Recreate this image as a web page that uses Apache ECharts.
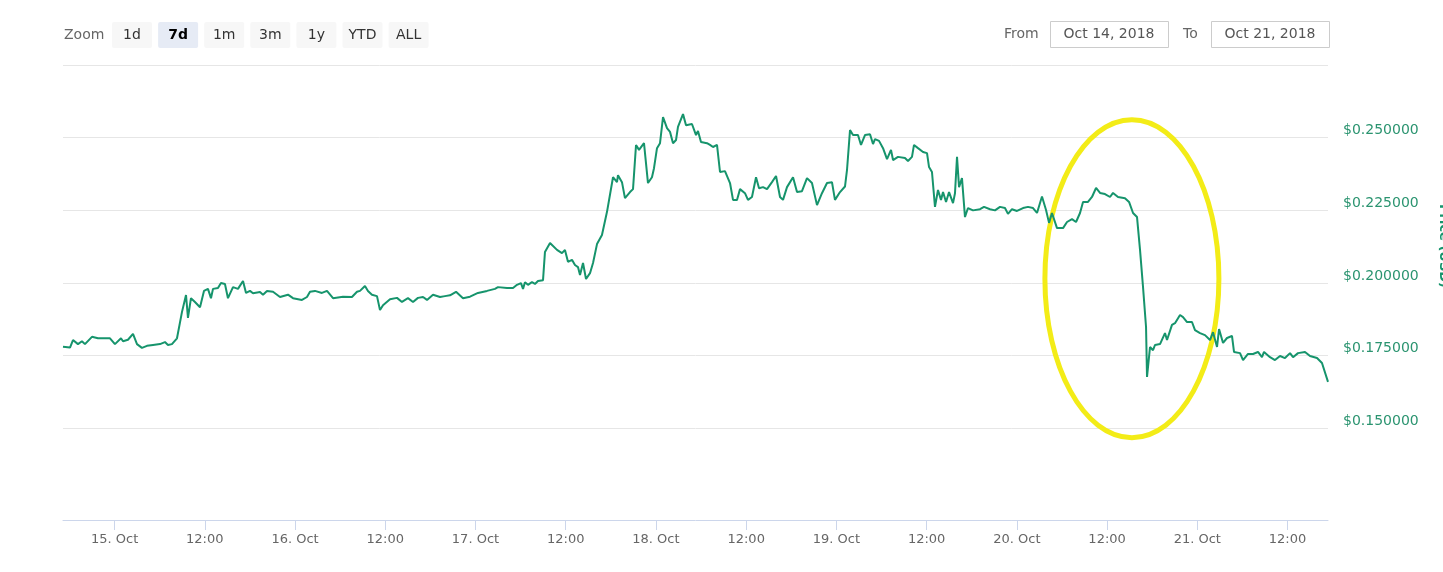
<!DOCTYPE html>
<html>
<head>
<meta charset="utf-8">
<title>Price (USD) 7d</title>
<script src="https://cdn.jsdelivr.net/npm/echarts@6/dist/echarts.min.js"></script>
<style>
  html, body { margin: 0; padding: 0; background: #fff; }
  #chart { width: 1443px; height: 572px; }
</style>
</head>
<body>
<div id="chart"></div>
<script>
// hours after 15 Oct 2018 00:00
const priceHours = [
  -6.86, -5.93, -5.53, -4.87, -4.34, -3.94, -3.01, -2.21, -1.54, -0.61,
  0.05, 0.85, 1.12, 1.78, 2.45, 2.98, 3.64, 4.31, 5.11, 6.04,
  6.70, 7.10, 7.63, 8.30, 8.96, 9.50, 9.76, 10.16, 10.69, 11.36,
  11.89, 12.42, 12.82, 13.09, 13.75, 14.15, 14.68, 15.08, 15.75, 16.41,
  17.08, 17.48, 18.01, 18.41, 19.34, 19.74, 20.27, 21.07, 22.00, 23.06,
  23.73, 24.92, 25.59, 25.99, 26.65, 27.58, 28.25, 29.05, 30.38, 31.57,
  32.24, 32.64, 33.30, 33.70, 34.23, 34.90, 35.30, 35.70, 36.63, 37.56,
  38.22, 39.02, 39.69, 40.35, 41.02, 41.55, 42.35, 43.28, 43.94, 44.61,
  45.41, 46.34, 47.27, 48.33, 49.53, 50.59, 50.99, 52.19, 52.99, 53.52,
  54.05, 54.32, 54.58, 54.98, 55.51, 55.91, 56.31, 56.98, 57.24, 57.91,
  58.84, 59.50, 59.90, 60.30, 60.83, 61.23, 61.63, 61.90, 62.30, 62.70,
  63.23, 63.63, 64.16, 64.82, 65.49, 66.29, 66.82, 66.95, 67.48, 67.88,
  68.55, 68.95, 69.35, 69.75, 70.41, 70.94, 71.47, 71.74, 72.14, 72.54,
  72.94, 73.47, 73.87, 74.27, 74.67, 74.93, 75.60, 76.00, 76.79, 77.33,
  77.59, 77.99, 78.79, 79.19, 79.59, 80.12, 80.52, 81.18, 81.85, 82.25,
  82.78, 83.18, 83.84, 84.24, 84.77, 85.31, 85.71, 86.24, 86.77, 87.43,
  87.97, 88.50, 88.90, 89.43, 90.23, 90.76, 91.42, 92.09, 92.75, 93.42,
  94.08, 94.75, 95.41, 95.81, 96.48, 97.14, 97.41, 97.81, 98.21, 98.87,
  99.27, 99.80, 100.47, 100.87, 101.13, 101.67, 102.20, 102.73, 103.26, 103.53,
  104.19, 105.12, 105.52, 106.05, 106.32, 106.85, 107.52, 108.05, 108.32, 108.71,
  109.11, 109.51, 109.91, 110.18, 110.58, 110.98, 111.51, 111.77, 112.04, 112.31,
  112.70, 113.10, 113.50, 114.17, 115.10, 115.63, 116.43, 117.09, 117.76, 118.42,
  118.82, 119.35, 120.02, 120.82, 121.48, 122.15, 122.68, 123.34, 123.88, 124.28,
  124.67, 125.34, 126.14, 126.67, 127.33, 127.87, 128.40, 128.80, 129.46, 129.99,
  130.53, 131.06, 131.72, 132.39, 132.79, 133.45, 134.38, 134.92, 135.45, 135.98,
  136.38, 136.78, 137.18, 137.31, 137.71, 138.11, 138.37, 139.04, 139.70, 139.97,
  140.63, 141.03, 141.70, 142.10, 142.63, 143.29, 143.69, 144.36, 145.02, 145.69,
  146.09, 146.62, 146.89, 147.42, 147.95, 148.61, 148.88, 149.68, 150.08, 150.74,
  151.41, 152.07, 152.60, 152.87, 153.67, 154.33, 155.00, 155.66, 156.33, 156.73,
  157.39, 158.32, 158.99, 159.92, 160.58, 161.38
]
const priceValues = [
  0.1781, 0.1778, 0.1804, 0.1790, 0.1800, 0.1790, 0.1815, 0.1810, 0.1810, 0.1810,
  0.1790, 0.1810, 0.1800, 0.1805, 0.1825, 0.1790, 0.1777, 0.1784, 0.1787, 0.1790,
  0.1797, 0.1787, 0.1790, 0.1810, 0.1900, 0.1959, 0.1880, 0.1948, 0.1935, 0.1917,
  0.1973, 0.1980, 0.1948, 0.1980, 0.1983, 0.2000, 0.1997, 0.1948, 0.1986, 0.1980,
  0.2007, 0.1966, 0.1973, 0.1965, 0.1969, 0.1960, 0.1973, 0.1970, 0.1952, 0.1960,
  0.1948, 0.1942, 0.1952, 0.1970, 0.1973, 0.1966, 0.1973, 0.1948, 0.1953, 0.1952,
  0.1970, 0.1973, 0.1990, 0.1973, 0.1960, 0.1955, 0.1907, 0.1924, 0.1944, 0.1949,
  0.1935, 0.1948, 0.1935, 0.1949, 0.1952, 0.1942, 0.1960, 0.1952, 0.1955, 0.1958,
  0.1970, 0.1948, 0.1953, 0.1966, 0.1973, 0.1980, 0.1986, 0.1983, 0.1983, 0.1994,
  0.2000, 0.1980, 0.2003, 0.1994, 0.2003, 0.1997, 0.2007, 0.2010, 0.2107, 0.2138,
  0.2114, 0.2103, 0.2114, 0.2073, 0.2080, 0.2062, 0.2055, 0.2028, 0.2069, 0.2014,
  0.2034, 0.2069, 0.2134, 0.2165, 0.2245, 0.2364, 0.2347, 0.2371, 0.2347, 0.2292,
  0.2313, 0.2323, 0.2475, 0.2458, 0.2481, 0.2344, 0.2364, 0.2395, 0.2464, 0.2481,
  0.2571, 0.2533, 0.2520, 0.2481, 0.2492, 0.2537, 0.2581, 0.2543, 0.2547, 0.2509,
  0.2523, 0.2485, 0.2481, 0.2475, 0.2468, 0.2475, 0.2382, 0.2385, 0.2344, 0.2286,
  0.2286, 0.2323, 0.2309, 0.2286, 0.2296, 0.2364, 0.2326, 0.2330, 0.2323, 0.2347,
  0.2368, 0.2296, 0.2286, 0.2330, 0.2364, 0.2313, 0.2316, 0.2361, 0.2344, 0.2268,
  0.2309, 0.2344, 0.2347, 0.2286, 0.2313, 0.2332, 0.2389, 0.2526, 0.2509, 0.2509,
  0.2475, 0.2509, 0.2512, 0.2478, 0.2495, 0.2489, 0.2464, 0.2426, 0.2458, 0.2423,
  0.2434, 0.2430, 0.2420, 0.2434, 0.2475, 0.2464, 0.2451, 0.2447, 0.2399, 0.2382,
  0.2262, 0.2320, 0.2286, 0.2313, 0.2279, 0.2313, 0.2275, 0.2309, 0.2434, 0.2330,
  0.2361, 0.2227, 0.2258, 0.2250, 0.2254, 0.2262, 0.2254, 0.2250, 0.2262, 0.2258,
  0.2238, 0.2254, 0.2248, 0.2258, 0.2262, 0.2258, 0.2241, 0.2298, 0.2251, 0.2207,
  0.2241, 0.2189, 0.2189, 0.2210, 0.2220, 0.2210, 0.2241, 0.2279, 0.2279, 0.2296,
  0.2327, 0.2310, 0.2306, 0.2296, 0.2310, 0.2296, 0.2292, 0.2279, 0.2241, 0.2227,
  0.2114, 0.1986, 0.1849, 0.1677, 0.1780, 0.1769, 0.1787, 0.1790, 0.1828, 0.1804,
  0.1856, 0.1862, 0.1890, 0.1883, 0.1866, 0.1866, 0.1838, 0.1828, 0.1821, 0.1804,
  0.1831, 0.1780, 0.1842, 0.1794, 0.1811, 0.1818, 0.1763, 0.1759, 0.1735, 0.1756,
  0.1756, 0.1763, 0.1745, 0.1763, 0.1745, 0.1735, 0.1749, 0.1742, 0.1759, 0.1745,
  0.1759, 0.1763, 0.1749, 0.1742, 0.1725, 0.1660
]

// x axis ticks (hours after 15 Oct 00:00) and y axis ticks
const xTickHours = [0, 12, 24, 36, 48, 60, 72, 84, 96, 108, 120, 132, 144, 156]
const firstDay = 15
const monthName = 'Oct'
const yTickValues = [0.15, 0.175, 0.2, 0.225, 0.25]
const yGridValues = [0.15, 0.175, 0.2, 0.225, 0.25, 0.275]

const zoomButtons = ['1d', '7d', '1m', '3m', '1y', 'YTD', 'ALL']
const activeButton = '7d'
const rangeFrom = 'Oct 14, 2018'
const rangeTo = 'Oct 21, 2018'

// yellow ring around the crash (hour, price)
const ringCenter = [135.3, 0.2015]

const FONT = 'DejaVu Sans'
const LINE = '#16946c'

const seriesData = priceHours.map((h, i) => [h, priceValues[i]])

const chart = echarts.init(document.getElementById('chart'))

function label(x, y, text, opts) {
  opts = opts || {}
  return {
    type: 'text', x: x, y: y, rotation: opts.rotation || 0,
    style: {
      text: text,
      fill: opts.color || '#666',
      font: (opts.bold ? 'bold ' : '') + (opts.size || 14) + 'px "' + FONT + '"',
      align: opts.align || 'left', verticalAlign: 'middle',
      textAlign: opts.align || 'left', textVerticalAlign: 'middle'
    }
  }
}

// toolbar (zoom buttons + date range)
const toolbar = []
toolbar.push(label(64, 35, 'Zoom'))
zoomButtons.forEach((b, i) => {
  const bx = 112 + i * 46.1
  const active = b === activeButton
  toolbar.push({
    type: 'rect', shape: { x: bx, y: 22, width: 40, height: 26, r: 2 },
    style: { fill: active ? '#e6ebf5' : '#f7f7f7' }
  })
  toolbar.push(label(bx + 20, 35, b, { align: 'center', color: active ? '#000' : '#333', bold: active }))
})
toolbar.push(label(1004, 34, 'From'))
toolbar.push({
  type: 'rect', shape: { x: 1050.5, y: 21.5, width: 118, height: 26 },
  style: { fill: '#fff', stroke: '#cccccc', lineWidth: 1 }
})
toolbar.push(label(1109, 34, rangeFrom, { align: 'center', color: '#555' }))
toolbar.push(label(1183, 34, 'To'))
toolbar.push({
  type: 'rect', shape: { x: 1211.5, y: 21.5, width: 118, height: 26 },
  style: { fill: '#fff', stroke: '#cccccc', lineWidth: 1 }
})
toolbar.push(label(1270, 34, rangeTo, { align: 'center', color: '#555' }))
// axis title, half cut off by the right edge
toolbar.push(label(1443, 246, 'Price (USD)', { align: 'center', color: LINE, bold: true, size: 13, rotation: -Math.PI / 2 }))

const option = {
  animation: false,
  backgroundColor: '#fff',
  grid: { left: 63, right: 115, top: 65, bottom: 52, outerBoundsMode: 'none' },
  xAxis: {
    type: 'value',
    min: -6.86,
    max: 161.38,
    axisLine: { onZero: false, lineStyle: { color: '#ccd6eb', width: 1 } },
    axisTick: { show: true, length: 10, lineStyle: { color: '#ccd6eb' }, customValues: xTickHours },
    splitLine: { show: false },
    axisLabel: {
      customValues: xTickHours,
      color: '#666', fontSize: 13, fontFamily: FONT, margin: 13,
      formatter: h => {
        const hh = h % 24
        if (hh === 0) return (firstDay + h / 24) + '. ' + monthName
        return String(hh).padStart(2, '0') + ':00'
      }
    }
  },
  yAxis: {
    type: 'value',
    position: 'right',
    min: 0.1185,
    max: 0.275,
    axisLine: { show: false },
    axisTick: { show: false, customValues: yGridValues },
    splitLine: { show: true, lineStyle: { color: '#e6e6e6', width: 1 } },
    axisLabel: {
      customValues: yTickValues,
      color: '#2b9470', fontSize: 14, fontFamily: FONT, margin: 15,
      verticalAlign: 'bottom', lineHeight: 14,
      formatter: v => '$' + v.toFixed(6)
    }
  },
  graphic: toolbar,
  series: [
    {
      type: 'line',
      name: 'Price (USD)',
      data: seriesData,
      showSymbol: false,
      z: 3,
      lineStyle: { color: LINE, width: 2 },
      itemStyle: { color: LINE }
    }
  ]
}

chart.setOption(option)

// yellow highlight ellipse, centred through the axes
const c = chart.convertToPixel({ gridIndex: 0 }, ringCenter)
chart.setOption({
  graphic: [
    {
      id: 'ring', type: 'ellipse', z: 1,
      shape: { cx: c[0], cy: c[1], rx: 87, ry: 159 },
      style: { fill: 'none', stroke: '#f3ec17', lineWidth: 5 }
    }
  ]
})
</script>
</body>
</html>
